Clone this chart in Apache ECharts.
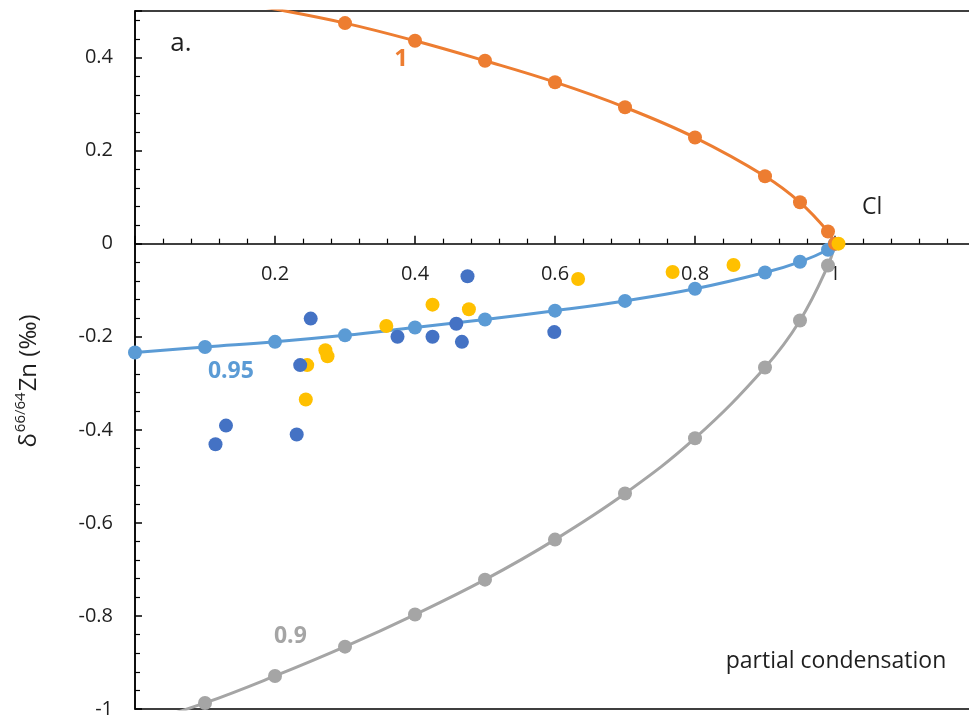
<!DOCTYPE html>
<html>
<head>
<meta charset="utf-8">
<script src="https://cdn.jsdelivr.net/npm/echarts@6/dist/echarts.min.js"></script>
<style>
  html, body { margin: 0; padding: 0; background: #fff; }
  #chart { width: 969px; height: 720px; }
</style>
</head>
<body>
<div id="chart"></div>
<script>
// Fraction condensed (x) for the model curves
const fraction = [0, 0.1, 0.2, 0.3, 0.4, 0.5, 0.6, 0.7, 0.8, 0.9, 0.95, 0.99, 1];
// Model δ66/64Zn for each fractionation factor
const curveAlpha1 = [0.555, 0.53, 0.504, 0.474, 0.436, 0.393, 0.347, 0.293, 0.228, 0.145, 0.089, 0.026, 0];
const curveAlpha095 = [-0.234, -0.222, -0.211, -0.197, -0.180, -0.163, -0.144, -0.123, -0.097, -0.062, -0.039, -0.013, 0];
const curveAlpha09 = [-1.035, -0.987, -0.929, -0.866, -0.797, -0.722, -0.636, -0.537, -0.418, -0.266, -0.165, -0.047, 0];

// Measured samples
const sampleAX = [0.475, 0.251, 0.236, 0.13, 0.115, 0.231, 0.375, 0.425, 0.459, 0.467, 0.599];
const sampleAY = [-0.070, -0.161, -0.261, -0.391, -0.431, -0.410, -0.200, -0.200, -0.172, -0.211, -0.190];
const sampleBX = [0.425, 0.477, 0.359, 0.272, 0.275, 0.246, 0.244, 0.633, 0.768, 0.855, 1.005];
const sampleBY = [-0.131, -0.141, -0.177, -0.229, -0.242, -0.261, -0.335, -0.076, -0.061, -0.046, 0.0];

// Axis ranges
const X_MIN = 0, X_MAX = 1.2, X_STEP = 0.2;
const Y_MIN = -1, Y_MAX = 0.5, Y_STEP = 0.2;

const FONT = 'Open Sans';
const INK = '#1f1f1f';
const ORANGE = '#ED7D31', BLUE = '#5B9BD5', GREY = '#A5A5A5', NAVY = '#4472C4', GOLD = '#FFC000';

const W = 969, H = 720;
const GRID = { left: 135, top: 11, bottom: 11, right: -6 };
// Distance from the plot's bottom edge up to the y = 0 line, so the x labels sit under it
const plotH = H - GRID.top - GRID.bottom;
const zeroFromBottom = plotH * (0 - Y_MIN) / (Y_MAX - Y_MIN);

const zip = (xs, ys) => xs.map((x, i) => [x, ys[i]]);

const chart = echarts.init(document.getElementById('chart'), null, { renderer: 'canvas' });

function curve(name, ys, color) {
  return {
    name, type: 'line', data: zip(fraction, ys),
    smooth: 0.4,
    symbol: 'circle', symbolSize: 14,
    lineStyle: { color, width: 3 },
    itemStyle: { color },
    clip: true, z: 2
  };
}

function samples(name, xs, ys, color, z) {
  return {
    name, type: 'scatter', data: zip(xs, ys),
    symbol: 'circle', symbolSize: 14,
    itemStyle: { color, opacity: 1 },
    clip: true, z
  };
}

const tickLine = { color: '#000', width: 1.5 };

chart.setOption({
  animation: false,
  grid: {
    ...GRID,
    outerBoundsMode: 'none',
    show: true, borderColor: '#000', borderWidth: 1.5,
    containLabel: false
  },
  xAxis: [
    {
      type: 'value', min: X_MIN, max: X_MAX, interval: X_STEP,
      axisLine: { onZero: true, lineStyle: tickLine },
      axisTick: { show: true, inside: true, length: 8, lineStyle: tickLine },
      minorTick: { show: true, splitNumber: 5, length: 5, lineStyle: { color: '#000', width: 1.2 } },
      splitLine: { show: false },
      axisLabel: { show: false }
    },
    {
      // label carrier placed along the y = 0 line
      type: 'value', min: X_MIN, max: X_MAX, interval: X_STEP,
      position: 'bottom', offset: -zeroFromBottom,
      axisLine: { show: false, onZero: false },
      axisTick: { show: false },
      splitLine: { show: false },
      axisLabel: {
        showMinLabel: false, showMaxLabel: false, margin: 21,
        fontFamily: FONT, fontSize: 20, color: INK
      }
    }
  ],
  yAxis: {
    type: 'value', min: Y_MIN, max: Y_MAX, interval: Y_STEP,
    axisLine: { show: true, onZero: false, lineStyle: tickLine },
    axisTick: { show: true, inside: true, length: 7, lineStyle: tickLine },
    minorTick: { show: true, splitNumber: 5, length: 5, lineStyle: { color: '#000', width: 1.2 } },
    splitLine: { show: false },
    axisLabel: { showMaxLabel: false, margin: 22, fontFamily: FONT, fontSize: 20, color: INK }
  },
  series: [
    curve('α = 0.9', curveAlpha09, GREY),
    curve('α = 0.95', curveAlpha095, BLUE),
    curve('α = 1', curveAlpha1, ORANGE),
    samples('samples B', sampleBX, sampleBY, GOLD, 4),
    samples('samples A', sampleAX, sampleAY, NAVY, 5)
  ]
});

// Annotations anchored to data coordinates
const notes = [
  { text: '1', at: [0.38, 0.396], color: ORANGE, bold: true, size: 24 },
  { text: '0.95', at: [0.137, -0.274], color: BLUE, bold: true, size: 23 },
  { text: '0.9', at: [0.222, -0.844], color: GREY, bold: true, size: 23 },
  { text: 'Cl', at: [1.053, 0.078], color: INK, bold: false, size: 23 }
];

const graphics = notes.map(n => {
  const p = chart.convertToPixel({ gridIndex: 0 }, n.at);
  return {
    type: 'text', x: p[0], y: p[1], z: 10,
    style: {
      text: n.text, fill: n.color, fontFamily: FONT,
      fontWeight: n.bold ? 'bold' : 'normal', fontSize: n.size,
      align: 'center', verticalAlign: 'middle'
    }
  };
});

graphics.push(
  {
    type: 'text', x: 181, y: 44, z: 10,
    style: { text: 'a.', fill: INK, fontFamily: FONT, fontSize: 26, align: 'center', verticalAlign: 'middle' }
  },
  {
    type: 'text', x: 836, y: 661, z: 10,
    style: { text: 'partial condensation', fill: INK, fontFamily: FONT, fontSize: 23, align: 'center', verticalAlign: 'middle' }
  },
  {
    type: 'text', x: 27, y: 381, rotation: Math.PI / 2, z: 10,
    style: {
      text: '{d|δ}{s|66/64}{d|Zn (‰)}',
      fill: INK, fontFamily: FONT, align: 'center', verticalAlign: 'middle',
      rich: {
        d: { fontFamily: FONT, fontSize: 24, fill: INK, verticalAlign: 'bottom', lineHeight: 28 },
        s: { fontFamily: FONT, fontSize: 15, fill: INK, verticalAlign: 'top', lineHeight: 28, padding: [0, 1, 9, 1] }
      }
    }
  }
);

chart.setOption({ graphic: graphics });
</script>
</body>
</html>
